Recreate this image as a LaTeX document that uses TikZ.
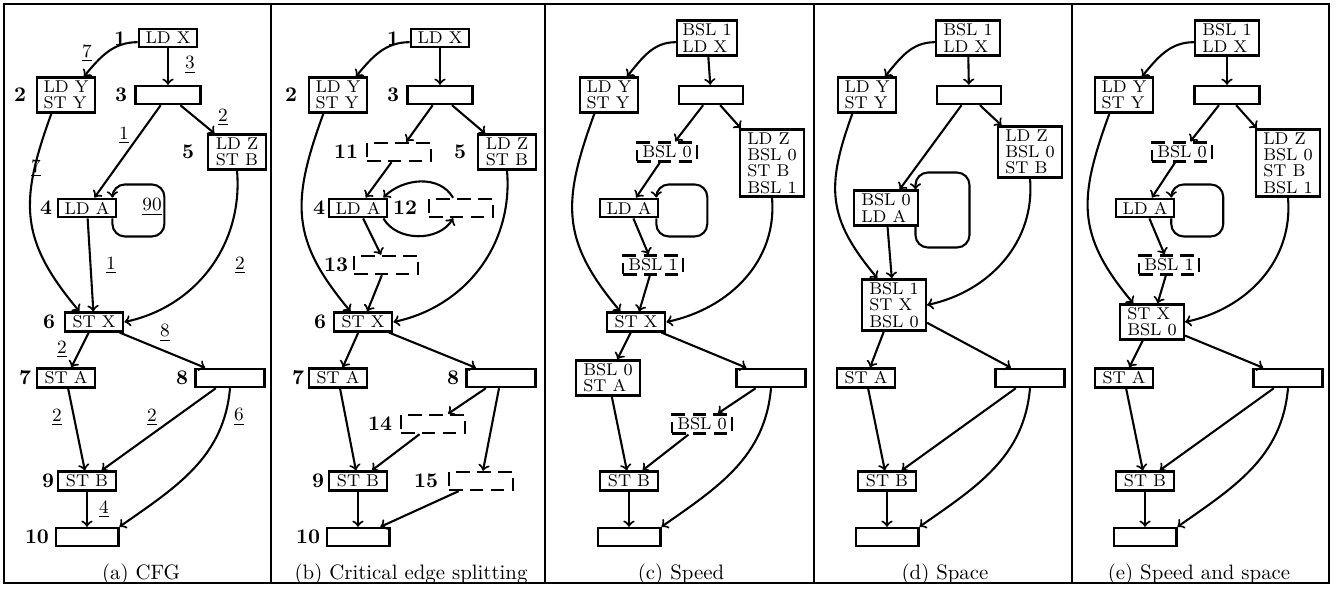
\documentclass[tikz,border=0pt]{standalone}
\usetikzlibrary{positioning}
\tikzset{
  blk/.style={draw,line width=1.2pt,font=\fontsize{8.2}{7.8}\selectfont,align=left,inner xsep=2.5pt,inner ysep=1.5pt,minimum width=28pt,minimum height=8.6pt},
  wideblk/.style={blk,minimum width=30.5pt},
  dashblk/.style={blk,dash pattern=on 6.5pt off 3.5pt},
  num/.style={font=\bfseries,inner sep=0pt},
  wt/.style={font=\small,inner sep=0pt},
  arr/.style={->,line width=1pt},
  subcap/.style={font=\normalsize,inner sep=0pt},
  frame/.style={line width=1.2pt}
}

\begin{document}
\begin{tikzpicture}[x=0.48pt,y=0.48pt]
\useasboundingbox (0,0) rectangle (1343,-589);
\draw[frame] (4,-4) rectangle (1329,-583);
\foreach \x in {271,545,814,1072} \draw[frame] (\x,-4) -- (\x,-583);

% (a)
\node[blk] (a1) at (168,-38) {LD X};
\node[blk] (a2) at (66,-95) {LD Y\\ST Y};
\node[blk,minimum width=31pt] (a3) at (168,-95) {};
\node[blk] (a5) at (237,-152) {LD Z\\ST B};
\node[blk] (a4) at (87,-208) {LD A};
\node[blk] (a6) at (94,-322) {ST X};
\node[blk] (a7) at (66,-378) {ST A};
\node[blk,minimum width=33pt] (a8) at (230,-378) {};
\node[blk] (a9) at (87,-481) {ST B};
\node[blk,minimum width=30pt] (a10) at (87,-537) {};
\node[num] (na1) at (120,-39) {1};
\node[num] (na2) at (20,-95) {2};
\node[num] (na3) at (121,-95) {3};
\node[num] (na4) at (46,-208) {4};
\node[num] (na5) at (188,-152) {5};
\node[num] (na6) at (49,-322) {6};
\node[num] (na7) at (25,-378) {7};
\node[num] (na8) at (182,-378) {8};
\node[num] (na9) at (48,-481) {9};
\node[num] (na10) at (37,-537) {10};
\draw[arr] ([yshift=-2pt]a1.west) to[out=180,in=50] ([xshift=-6pt]a2.north east);
\draw[arr] (a1) -- (a3);
\draw[arr] (a3) -- (a4);
\draw[arr] (a3) -- (a5);
\draw[arr] ([xshift=-7pt]a2.south) to[out=-110,in=130,looseness=1.2] ([xshift=-7pt]a6.north);
\draw[arr] (a4) -- (a6);
\draw[arr] (a5.south) to[out=-85,in=12] (a6.east);
\draw[arr,rounded corners=6pt] ([xshift=-2.4pt]a4.south east) -- ++(0,-18) -- ++(52,0) -- ++(0,52) -- ++(-52,0) -- ([xshift=-2.4pt]a4.north east);
\draw[arr] (a6) -- (a7);
\draw[arr] (a6) -- (a8);
\draw[arr] (a7) -- (a9);
\draw[arr] (a8) -- (a9);
\draw[arr] (a8.south) to[out=-95,in=35] (a10.north east);
\draw[arr] (a9) -- (a10);
\node[wt] (w12) at (87,-53) {\underline{7}};
\node[wt] (w13) at (190,-65) {\underline{3}};
\node[wt] (w34) at (124,-135) {\underline{1}};
\node[wt] (w35) at (223,-117) {\underline{2}};
\node[wt] (w26) at (36,-168) {\underline{7}};
\node[wt] (w46) at (111,-265) {\underline{1}};
\node[wt] (w56) at (240,-265) {\underline{2}};
\node[wt] (w44) at (152,-207) {\underline{90}};
\node[wt] (w68) at (165,-333) {\underline{8}};
\node[wt] (w67) at (62,-349) {\underline{2}};
\node[wt] (w79) at (57,-417) {\underline{2}};
\node[wt] (w89) at (152,-417) {\underline{2}};
\node[wt] (w810) at (239,-417) {\underline{6}};
\node[wt] (w910) at (104,-509) {\underline{4}};
\node[subcap] (capa) at (141,-574) {(a) CFG};

% (b)
\node[blk] (b1) at (440,-38) {LD X};
\node[blk] (b2) at (338,-95) {LD Y\\ST Y};
\node[blk,minimum width=31pt] (b3) at (440,-95) {};
\node[dashblk,minimum width=30.7pt] (b11) at (399,-152) {};
\node[blk] (b5) at (507,-152) {LD Z\\ST B};
\node[blk] (b4) at (358,-208) {LD A};
\node[dashblk,minimum width=30.7pt] (b12) at (461,-208) {};
\node[dashblk,minimum width=30.7pt] (b13) at (386,-265) {};
\node[blk] (b6) at (363,-322) {ST X};
\node[blk] (b7) at (338,-378) {ST A};
\node[blk,minimum width=33pt] (b8) at (501,-378) {};
\node[dashblk,minimum width=30.7pt] (b14) at (433,-424) {};
\node[blk] (b9) at (358,-481) {ST B};
\node[dashblk,minimum width=30.7pt] (b15) at (481,-481) {};
\node[blk,minimum width=30pt] (b10) at (358,-537) {};
\node[num] (nb1) at (393,-39) {1};
\node[num] (nb2) at (291,-95) {2};
\node[num] (nb3) at (393,-95) {3};
\node[num] (nb11) at (346,-152) {11};
\node[num] (nb5) at (460,-152) {5};
\node[num] (nb4) at (319,-208) {4};
\node[num] (nb12) at (405,-208) {12};
\node[num] (nb13) at (336,-265) {13};
\node[num] (nb6) at (320,-322) {6};
\node[num] (nb7) at (298,-378) {7};
\node[num] (nb8) at (453,-378) {8};
\node[num] (nb14) at (380,-424) {14};
\node[num] (nb9) at (318,-481) {9};
\node[num] (nb15) at (426,-481) {15};
\node[num] (nb10) at (308,-537) {10};
\draw[arr] ([yshift=-2pt]b1.west) to[out=180,in=50] ([xshift=-6pt]b2.north east);
\draw[arr] (b1) -- (b3);
\draw[arr] (b3) -- (b11);
\draw[arr] (b3) -- (b5);
\draw[arr] (b11) -- (b4);
\draw[arr] ([xshift=-2.4pt]b4.south east) to[out=-60,in=-120] ([xshift=-3.8pt]b12.south);
\draw[arr] ([xshift=-3.8pt]b12.north) to[out=120,in=45] ([xshift=-2.4pt]b4.north east);
\draw[arr] (b4) -- (b13);
\draw[arr] (b13) -- (b6);
\draw[arr] ([xshift=-7pt]b2.south) to[out=-110,in=130,looseness=1.2] ([xshift=-6pt]b6.north);
\draw[arr] (b5.south) to[out=-85,in=12] (b6.east);
\draw[arr] (b6) -- (b7);
\draw[arr] (b6) -- (b8);
\draw[arr] (b7) -- (b9);
\draw[arr] (b8) -- (b14);
\draw[arr] (b14) -- (b9);
\draw[arr] (b8) -- (b15);
\draw[arr] (b15) -- (b10);
\draw[arr] (b9) -- (b10);
\node[subcap] (capb) at (411,-574) {(b) Critical edge splitting};

% (c)
\node[blk] (c1) at (707,-38) {BSL 1\\LD X};
\node[blk] (c2) at (609,-95) {LD Y\\ST Y};
\node[blk,minimum width=30.7pt] (c3) at (711,-95) {};
\node[dashblk] (c11) at (667,-152) {BSL 0};
\node[wideblk] (c5) at (772,-163) {LD Z\\BSL 0\\ST B\\BSL 1};
\node[blk] (c4) at (629,-208) {LD A};
\node[dashblk] (c13) at (653,-265) {BSL 1};
\node[blk] (c6) at (636,-322) {ST X};
\node[wideblk] (c7) at (608,-378) {BSL 0\\ST A};
\node[blk,minimum width=33pt] (c8) at (771,-378) {};
\node[dashblk] (c14) at (702,-424) {BSL 0};
\node[blk] (c9) at (629,-481) {ST B};
\node[blk,minimum width=30pt] (c10) at (629,-537) {};
\draw[arr] ([yshift=-2pt]c1.west) to[out=180,in=50] ([xshift=-6pt]c2.north east);
\draw[arr] (c1) -- (c3);
\draw[arr] (c3) -- (c11);
\draw[arr] (c3) -- (c5);
\draw[arr] (c11) -- (c4);
\draw[arr,rounded corners=6pt] ([xshift=-1.5pt]c4.south east) -- ++(0,-18) -- ++(51,0) -- ++(0,52) -- ++(-51,0) -- ([xshift=-1.5pt]c4.north east);
\draw[arr] (c4) -- (c13);
\draw[arr] (c13) -- (c6);
\draw[arr] ([xshift=-7pt]c2.south) to[out=-110,in=130,looseness=1.2] ([xshift=-7.5pt]c6.north);
\draw[arr] (c5.south) to[out=-85,in=12] (c6.east);
\draw[arr] (c6) -- (c7);
\draw[arr] (c6) -- (c8);
\draw[arr] (c7) -- (c9);
\draw[arr] (c8) -- (c14);
\draw[arr] (c14) -- (c9);
\draw[arr] (c8.south) to[out=-95,in=35] (c10.north east);
\draw[arr] (c9) -- (c10);
\node[subcap] (capc) at (681,-574) {(c) Speed};

% (d)
\node[wideblk] (d1) at (968,-38) {BSL 1\\LD X};
\node[blk] (d2) at (867,-95) {LD Y\\ST Y};
\node[blk,minimum width=30.7pt] (d3) at (969,-95) {};
\node[wideblk] (d5) at (1030,-152) {LD Z\\BSL 0\\ST B};
\node[wideblk] (d4) at (886,-208) {BSL 0\\LD A};
\node[wideblk] (d6) at (894,-305) {BSL 1\\ST X\\BSL 0};
\node[blk] (d7) at (866,-378) {ST A};
\node[blk,minimum width=33pt] (d8) at (1030,-378) {};
\node[blk] (d9) at (887,-481) {ST B};
\node[blk,minimum width=30pt] (d10) at (887,-537) {};
\draw[arr] ([yshift=-2pt]d1.west) to[out=180,in=50] ([xshift=-6pt]d2.north east);
\draw[arr] (d1) -- (d3);
\draw[arr] (d3) -- (d4);
\draw[arr] (d3) -- (d5);
\draw[arr,rounded corners=6pt] ([xshift=-1.7pt]d4.south east) -- ++(0,-21) -- ++(54,0) -- ++(0,75) -- ++(-54,0) -- ([xshift=-1.7pt]d4.north east);
\draw[arr] (d4) -- (d6);
\draw[arr] ([xshift=-7pt]d2.south) to[out=-110,in=130,looseness=1.2] ([xshift=-8pt]d6.north);
\draw[arr] (d5.south) to[out=-85,in=12] (d6.east);
\draw[arr] (d6) -- (d7);
\draw[arr] (d6) -- (d8);
\draw[arr] (d7) -- (d9);
\draw[arr] (d8) -- (d9);
\draw[arr] (d8.south) to[out=-95,in=35] (d10.north east);
\draw[arr] (d9) -- (d10);
\node[subcap] (capd) at (945,-574) {(d) Space};

% (e)
\node[wideblk] (e1) at (1227,-38) {BSL 1\\LD X};
\node[blk] (e2) at (1124,-95) {LD Y\\ST Y};
\node[blk,minimum width=31pt] (e3) at (1227,-95) {};
\node[dashblk] (e11) at (1182,-152) {BSL 0};
\node[wideblk] (e5) at (1288,-163) {LD Z\\BSL 0\\ST B\\BSL 1};
\node[blk] (e4) at (1145,-208) {LD A};
\node[dashblk] (e13) at (1169,-265) {BSL 1};
\node[wideblk] (e6) at (1152,-322) {ST X\\BSL 0};
\node[blk] (e7) at (1124,-378) {ST A};
\node[blk,minimum width=33pt] (e8) at (1288,-378) {};
\node[blk] (e9) at (1145,-481) {ST B};
\node[blk,minimum width=30pt] (e10) at (1145,-537) {};
\draw[arr] ([yshift=-2pt]e1.west) to[out=180,in=50] ([xshift=-6pt]e2.north east);
\draw[arr] (e1) -- (e3);
\draw[arr] (e3) -- (e11);
\draw[arr] (e3) -- (e5);
\draw[arr] (e11) -- (e4);
\draw[arr,rounded corners=6pt] ([xshift=-2pt]e4.south east) -- ++(0,-18) -- ++(52,0) -- ++(0,52) -- ++(-52,0) -- ([xshift=-2pt]e4.north east);
\draw[arr] (e4) -- (e13);
\draw[arr] (e13) -- (e6);
\draw[arr] ([xshift=-7pt]e2.south) to[out=-110,in=130,looseness=1.2] ([xshift=-9pt]e6.north);
\draw[arr] (e5.south) to[out=-85,in=12] (e6.east);
\draw[arr] (e6) -- (e7);
\draw[arr] (e6) -- (e8);
\draw[arr] (e7) -- (e9);
\draw[arr] (e8) -- (e9);
\draw[arr] (e8.south) to[out=-95,in=35] (e10.north east);
\draw[arr] (e9) -- (e10);
\node[subcap] (cape) at (1199,-574) {(e) Speed and space};
\end{tikzpicture}
\end{document}
